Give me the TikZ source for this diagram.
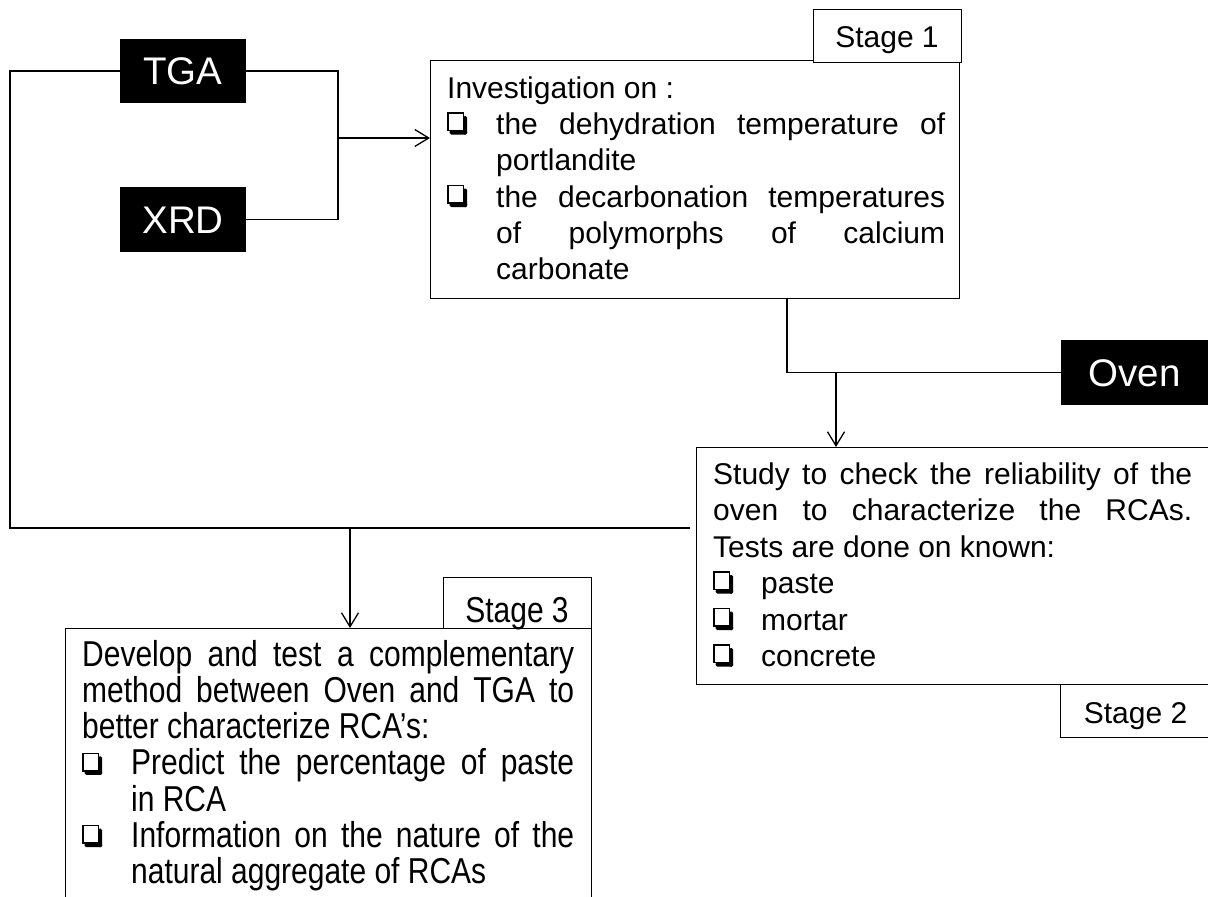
\documentclass[tikz,border=0pt]{standalone}
\usepackage{fontspec}
\setmainfont{Liberation Sans}
\newfontfamily\narrowf[FakeStretch=0.833]{Liberation Sans}
\usetikzlibrary{arrows.meta}
\newcommand\qbx{\tikz[x=1pt,y=1pt,baseline=0pt]{\draw[line width=1.5pt,black] (0.75,4) rectangle (16.5,21.5); \fill[black,rounded corners=1.5pt] (2.5,0) rectangle (20,4.5); \fill[black,rounded corners=1.5pt] (15.8,0) rectangle (20,18.5);}}
\newlength\hang
\newcommand\itm[1]{\par\hangindent=\hang\hangafter=1\noindent\makebox[\hang][l]{\qbx}#1}
\newcommand\txtsetup{\tolerance=10000\hbadness=10000\parindent=0pt\parskip=0pt}
\tikzset{
  conn/.style={line width=1.3pt},
  arr/.style={conn,-{Straight Barb[length=14pt,width=17pt]}},
  box/.style={draw,line width=1.3pt,inner sep=0pt,anchor=north west},
  blk/.style={fill=black,text=white,inner sep=0pt,font=\fontsize{38.5}{40}\selectfont,text height=27.5pt,text depth=0pt},
  txt/.style={inner sep=0pt,anchor=north west},
  lbltxt/.style={inner sep=0pt,anchor=base,font=\fontsize{30}{36}\selectfont}
}
\begin{document}
\begin{tikzpicture}[x=1pt,y=-1pt]
\useasboundingbox (0,0) rectangle (1208,897);
% black method boxes
\node[blk,minimum width=126pt,minimum height=64pt] (tga) at (183,71) {TGA};
\node[blk,minimum width=126pt,minimum height=65pt] (xrd) at (183,219.5) {XRD};
\node[blk,minimum width=147pt,minimum height=65pt] (oven) at (1134.5,372.5) {Oven};
% stage boxes
\node[box,minimum width=529pt,minimum height=238pt] (s1) at (430,60) {};
\node[box,fill=white,minimum width=148pt,minimum height=53pt] (s1l) at (813,9) {};
\node[lbltxt] (s1lt) at (887,47) {Stage 1};
\node[box,minimum width=511.5pt,minimum height=237pt] (s2) at (696,447) {};
\node[box,minimum width=147.5pt,minimum height=53pt] (s2l) at (1060,684) {};
\node[lbltxt] (s2lt) at (1135.5,723) {Stage 2};
\node[box,minimum width=526pt,minimum height=285pt] (s3) at (65,628) {};
\node[box,minimum width=148pt,minimum height=51pt] (s3l) at (443,577) {};
\node[lbltxt,font=\narrowf\fontsize{36}{36}\selectfont] (s3lt) at (517,622) {Stage 3};
% texts
\node[txt] (s1t) at (447,73) {\parbox[t]{498pt}{\fontsize{30}{36.3}\selectfont\txtsetup\setlength\hang{49pt}%
\rule{0pt}{25pt}Investigation on :%
\itm{the dehydration temperature of\linebreak portlandite}%
\itm{the decarbonation temperatures\linebreak of polymorphs of calcium\linebreak carbonate}\par}};
\node[txt] (s2t) at (713,459) {\parbox[t]{479pt}{\fontsize{30}{36.5}\selectfont\txtsetup\setlength\hang{48pt}%
\rule{0pt}{25pt}Study to check the reliability of the\linebreak oven to characterize the RCAs.\linebreak Tests are done on known:%
\itm{paste}%
\itm{mortar}%
\itm{concrete}\par}};
\node[txt] (s3t) at (82,638) {\parbox[t]{492pt}{\narrowf\fontsize{36}{36.2}\selectfont\txtsetup\setlength\hang{49pt}%
\rule{0pt}{28pt}Develop and test a complementary\linebreak method between Oven and TGA to\linebreak better characterize RCA’s:%
\itm{Predict the percentage of paste\linebreak in RCA}%
\itm{Information on the nature of the\linebreak natural aggregate of RCAs}\par}};
% connectors
\coordinate (tl) at (10,71);
\coordinate (bl) at (10,528);
\coordinate (br) at (690,528);
\coordinate (d3) at (350,528);
\draw[conn] (tga.west) -- (tl) -- (bl) -- (br);
\draw[arr] (d3) -- (d3 |- s3.north);
\coordinate (jr) at (338,71);
\coordinate (jr2) at (338,219.5);
\coordinate (jm) at (338,138);
\draw[conn] (tga.east) -- (jr) -- (jr2) -- (xrd.east);
\draw[arr] (jm) -- (jm -| s1.west);
\coordinate (u2) at (787,372.5);
\coordinate (u3) at (836,372.5);
\draw[conn] (u2 |- s1.south) -- (u2) -- (oven.west);
\draw[arr] (u3) -- (u3 |- s2.north);
\end{tikzpicture}
\end{document}
